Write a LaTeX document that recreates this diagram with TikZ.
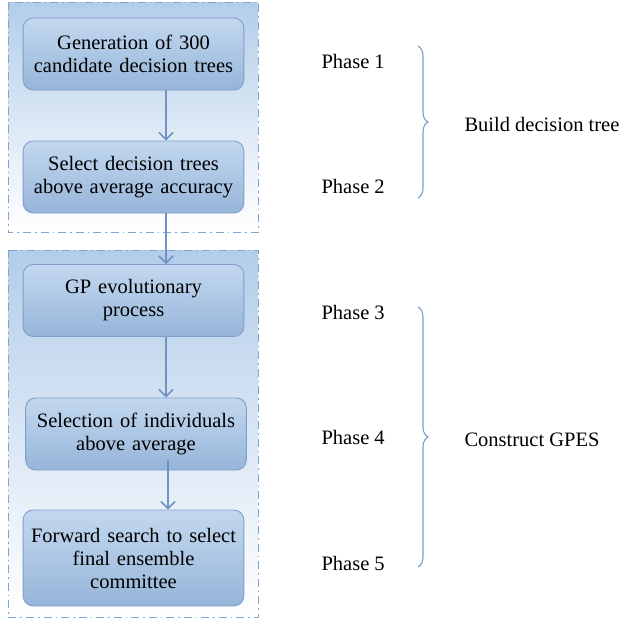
\documentclass[tikz,border=0pt]{standalone}
\usepackage{fontspec}
\setmainfont{Liberation Serif}
\usepackage{tikz}
\usetikzlibrary{positioning, arrows.meta, decorations.pathreplacing, calc}
\usepackage{xcolor}
\definecolor{framebl}{HTML}{7FA5D0}
\definecolor{frametop}{HTML}{B3CDE9}
\definecolor{boxtop}{HTML}{C3D8EF}
\definecolor{boxbot}{HTML}{96B5D9}
\definecolor{boxline}{HTML}{7F9FC9}
\definecolor{arrowbl}{HTML}{6F94C2}
\definecolor{bracebl}{HTML}{7A9DC8}

\begin{document}
\begin{tikzpicture}[
    x=1pt, y=-1pt,
    frame/.style={draw=framebl, dash pattern=on 8pt off 4pt on 1.5pt off 4pt, line width=0.9pt,
                  top color=frametop, bottom color=white},
    box/.style={rectangle, draw=boxline, line width=0.9pt, rounded corners=10pt, top color=boxtop,
                bottom color=boxbot, minimum width=217pt, minimum height=72pt, text width=214pt,
                align=center, font=\fontsize{20.5}{23}\selectfont},
    phase/.style={anchor=west, font=\fontsize{20.5}{23}\selectfont},
    flow/.style={-{Straight Barb[length=7pt, width=14pt]}, draw=arrowbl, line width=1.6pt},
    brc/.style={decorate, decoration={brace, amplitude=10pt}, draw=bracebl, line width=1.1pt}
]
\useasboundingbox (0,0) rectangle (624,621);

% Containers
\draw[frame] (8,2) rectangle (258,232);
\draw[frame] (8,250) rectangle (258,617);

% Modules
\node[box] (gen) at (133.5,54) {Generation of 300\\candidate decision trees};
\node[box] (sel) at (133.5,177) {Select decision trees\\above average accuracy};
\node[box] (gp) at (133.5,300.5) {GP evolutionary\\process};
\node[box] (ind) at (136,434) {Selection of individuals\\above average};
\node[box, minimum height=96pt] (fwd) at (133.5,558) {Forward search to select\\final ensemble\\committee};

% Flow
\coordinate (ax) at (166,0);
\coordinate (bx) at (168,0);
\draw[flow] (gen.south -| ax) -- (sel.north -| ax);
\draw[flow] (sel.south -| ax) -- (gp.north -| ax);
\draw[flow] (gp.south -| ax) -- (ind.north -| ax);
\draw[flow, shorten <=-10pt] (ind.south -| bx) -- (fwd.north -| bx);

% Phases
\node[phase] (p1) at (318,61) {Phase 1};
\node[phase] (p2) at (318,186) {Phase 2};
\node[phase] (p3) at (318,312) {Phase 3};
\node[phase] (p4) at (318,437) {Phase 4};
\node[phase] (p5) at (318,563) {Phase 5};

% Braces
\coordinate (kx) at (418,0);
\draw[brc] ($(p1.center -| kx)+(0,-15)$) -- ($(p2.center -| kx)+(0,12)$);
\draw[brc] ($(p3.center -| kx)+(0,-5)$) -- ($(p5.center -| kx)+(0,4)$);
\node[phase] (build) at (461,124) {Build decision tree};
\node[phase] (gpes) at (461,440) {Construct GPES};
\end{tikzpicture}
\end{document}
